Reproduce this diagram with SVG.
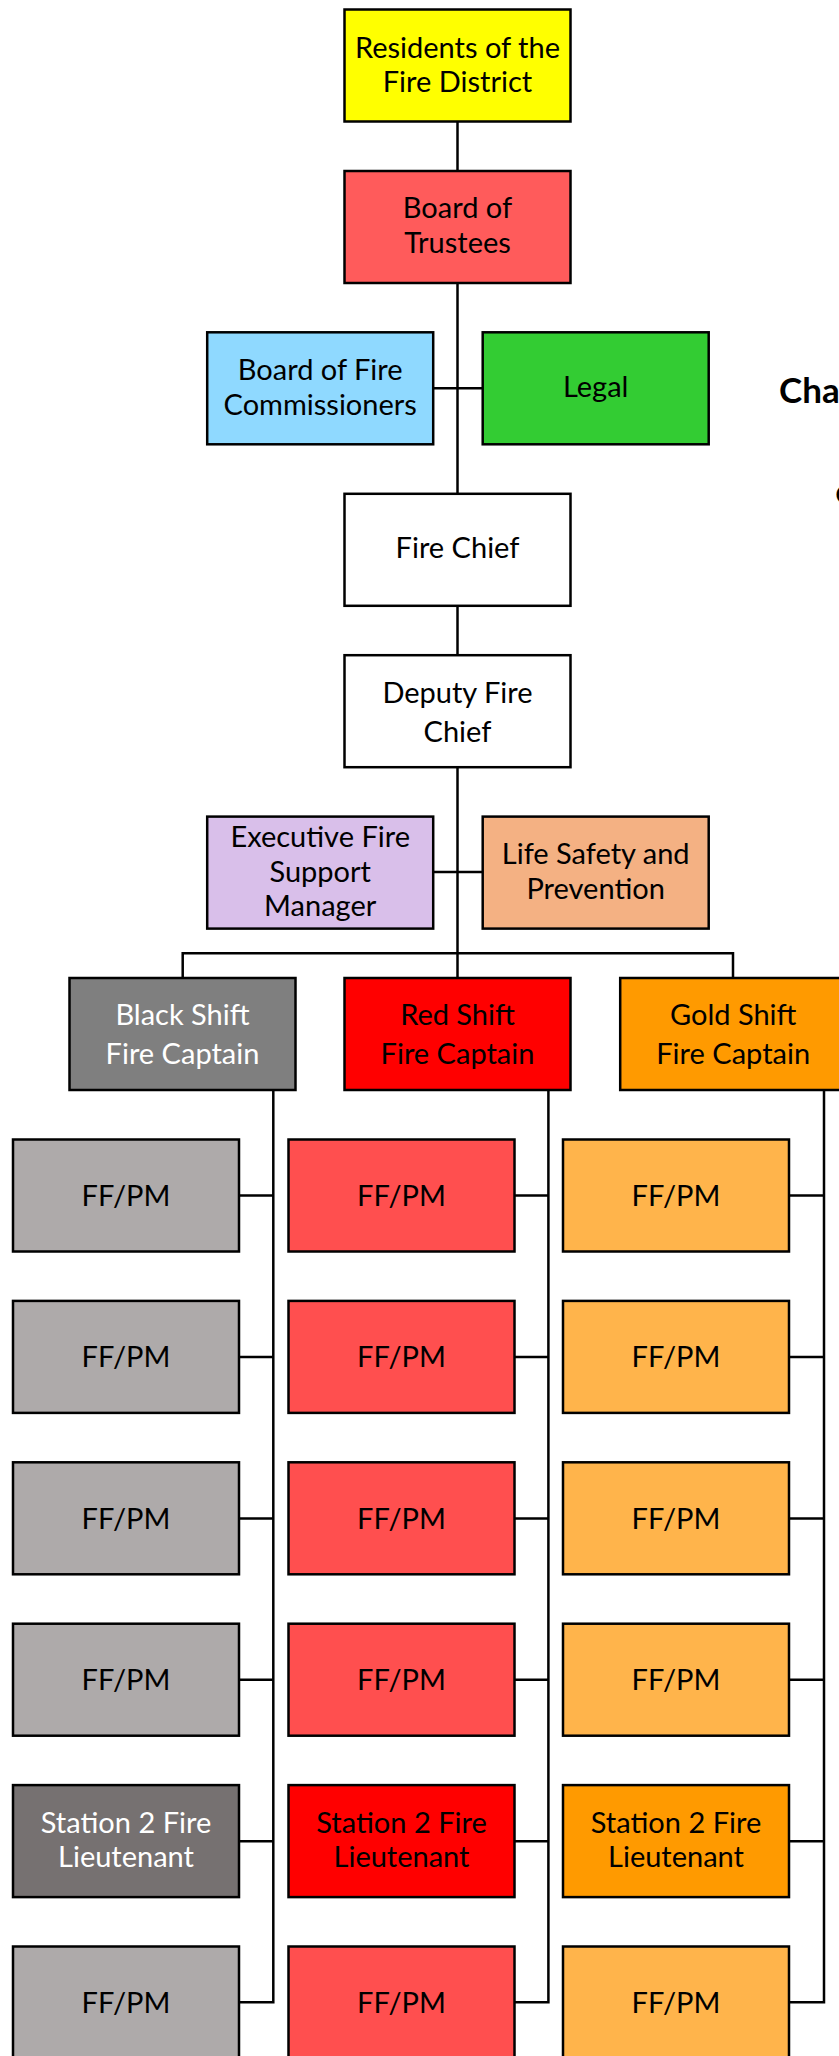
<svg xmlns="http://www.w3.org/2000/svg" width="839" height="2056" viewBox="0 0 839 2056">
<style>
.b{stroke:#000;stroke-width:2.5}
.t{font-family:Lato,"Liberation Sans",sans-serif;font-size:29px;text-anchor:middle;fill:#000}
.w{fill:#fff}
.c{fill:none;stroke:#000;stroke-width:2.5;stroke-linejoin:miter}
.h{font-family:Lato,"Liberation Sans",sans-serif;font-weight:bold;fill:#000}
.yel{fill:#FFFF00}.tru{fill:#FF5B5B}.blu{fill:#8FD9FF}.grn{fill:#33CC33}.wht{fill:#FFFFFF}
.lav{fill:#D9BFEA}.pch{fill:#F4B183}.gry{fill:#7F7F7F}.red{fill:#FF0000}.gld{fill:#FF9A00}
.gff{fill:#AEAAAA}.rff{fill:#FF4F4F}.oFF{fill:#FFB44B}.g2{fill:#767171}
</style>
<rect width="839" height="2056" fill="#fff"/>
<g id="connectors">
<line class="c" x1="457.5" y1="122" x2="457.5" y2="170"/>
<line class="c" x1="457.5" y1="283" x2="457.5" y2="493"/>
<line class="c" x1="433" y1="388.3" x2="482" y2="388.3"/>
<line class="c" x1="457.5" y1="606" x2="457.5" y2="655"/>
<line class="c" x1="457.5" y1="767" x2="457.5" y2="977"/>
<line class="c" x1="433" y1="872" x2="482" y2="872"/>
<path class="c" d="M182.7,977 V953.3 H733 V977"/>
<path class="c" d="M273.3,1090 V2002.3 H239"/>
<path class="c" d="M548.4,1090 V2002.3 H514.5"/>
<path class="c" d="M824,1090 V2002.3 H789.5"/>
<line class="c" x1="239" y1="1195.6" x2="273.3" y2="1195.6"/>
<line class="c" x1="239" y1="1357" x2="273.3" y2="1357"/>
<line class="c" x1="239" y1="1518.4" x2="273.3" y2="1518.4"/>
<line class="c" x1="239" y1="1679.8" x2="273.3" y2="1679.8"/>
<line class="c" x1="239" y1="1841.2" x2="273.3" y2="1841.2"/>
<line class="c" x1="514.5" y1="1195.6" x2="548.4" y2="1195.6"/>
<line class="c" x1="514.5" y1="1357" x2="548.4" y2="1357"/>
<line class="c" x1="514.5" y1="1518.4" x2="548.4" y2="1518.4"/>
<line class="c" x1="514.5" y1="1679.8" x2="548.4" y2="1679.8"/>
<line class="c" x1="514.5" y1="1841.2" x2="548.4" y2="1841.2"/>
<line class="c" x1="789.5" y1="1195.6" x2="824" y2="1195.6"/>
<line class="c" x1="789.5" y1="1357" x2="824" y2="1357"/>
<line class="c" x1="789.5" y1="1518.4" x2="824" y2="1518.4"/>
<line class="c" x1="789.5" y1="1679.8" x2="824" y2="1679.8"/>
<line class="c" x1="789.5" y1="1841.2" x2="824" y2="1841.2"/>
</g>
<g id="residents"><rect class="b yel" x="344.5" y="9.5" width="226" height="112"/><text class="t" x="457.5" y="57.5">Residents of the</text><text class="t" x="457.5" y="91.8">Fire District</text></g>
<g id="trustees"><rect class="b tru" x="344.5" y="171" width="226" height="112"/><text class="t" x="457.5" y="218">Board of</text><text class="t" x="457.5" y="252.5">Trustees</text></g>
<g id="commissioners"><rect class="b blu" x="207.2" y="332.3" width="226" height="112"/><text class="t" x="320.2" y="379.8">Board of Fire</text><text class="t" x="320.2" y="414.5">Commissioners</text></g>
<g id="legal"><rect class="b grn" x="482.7" y="332.3" width="226" height="112"/><text class="t" x="595.7" y="397">Legal</text></g>
<g id="fire-chief"><rect class="b wht" x="344.5" y="493.8" width="226" height="112"/><text class="t" x="457.5" y="558.3">Fire Chief</text></g>
<g id="deputy"><rect class="b wht" x="344.5" y="655.2" width="226" height="112"/><text class="t" x="457.5" y="702.9">Deputy Fire</text><text class="t" x="457.5" y="741.6">Chief</text></g>
<g id="executive"><rect class="b lav" x="207.2" y="816.6" width="226" height="112"/><text class="t" x="320.2" y="846.9">Executive Fire</text><text class="t" x="320.2" y="881.6">Support</text><text class="t" x="320.2" y="916.3">Manager</text></g>
<g id="life-safety"><rect class="b pch" x="482.7" y="816.6" width="226" height="112"/><text class="t" x="595.7" y="864">Life Safety and</text><text class="t" x="595.7" y="898.8">Prevention</text></g>
<g id="black-captain"><rect class="b gry" x="69.5" y="978" width="226" height="112"/><text class="t w" x="182.5" y="1025">Black Shift</text><text class="t w" x="182.5" y="1064">Fire Captain</text></g>
<g id="red-captain"><rect class="b red" x="344.5" y="978" width="226" height="112"/><text class="t" x="457.5" y="1025">Red Shift</text><text class="t" x="457.5" y="1064">Fire Captain</text></g>
<g id="gold-captain"><rect class="b gld" x="620.2" y="978" width="226" height="112"/><text class="t" x="733.2" y="1025">Gold Shift</text><text class="t" x="733.2" y="1064">Fire Captain</text></g>
<g id="black-ff1"><rect class="b gff" x="13" y="1139.5" width="226" height="112"/><text class="t" x="126" y="1206">FF/PM</text></g>
<g id="black-ff2"><rect class="b gff" x="13" y="1300.9" width="226" height="112"/><text class="t" x="126" y="1367.4">FF/PM</text></g>
<g id="black-ff3"><rect class="b gff" x="13" y="1462.3" width="226" height="112"/><text class="t" x="126" y="1528.8">FF/PM</text></g>
<g id="black-ff4"><rect class="b gff" x="13" y="1623.7" width="226" height="112"/><text class="t" x="126" y="1690.2">FF/PM</text></g>
<g id="black-lt"><rect class="b g2" x="13" y="1785.1" width="226" height="112"/><text class="t w" x="126" y="1832.7">Station 2 Fire</text><text class="t w" x="126" y="1867.3">Lieutenant</text></g>
<g id="black-ff5"><rect class="b gff" x="13" y="1946.5" width="226" height="112"/><text class="t" x="126" y="2013">FF/PM</text></g>
<g id="red-ff1"><rect class="b rff" x="288.5" y="1139.5" width="226" height="112"/><text class="t" x="401.5" y="1206">FF/PM</text></g>
<g id="red-ff2"><rect class="b rff" x="288.5" y="1300.9" width="226" height="112"/><text class="t" x="401.5" y="1367.4">FF/PM</text></g>
<g id="red-ff3"><rect class="b rff" x="288.5" y="1462.3" width="226" height="112"/><text class="t" x="401.5" y="1528.8">FF/PM</text></g>
<g id="red-ff4"><rect class="b rff" x="288.5" y="1623.7" width="226" height="112"/><text class="t" x="401.5" y="1690.2">FF/PM</text></g>
<g id="red-lt"><rect class="b red" x="288.5" y="1785.1" width="226" height="112"/><text class="t" x="401.5" y="1832.7">Station 2 Fire</text><text class="t" x="401.5" y="1867.3">Lieutenant</text></g>
<g id="red-ff5"><rect class="b rff" x="288.5" y="1946.5" width="226" height="112"/><text class="t" x="401.5" y="2013">FF/PM</text></g>
<g id="gold-ff1"><rect class="b oFF" x="563" y="1139.5" width="226" height="112"/><text class="t" x="676" y="1206">FF/PM</text></g>
<g id="gold-ff2"><rect class="b oFF" x="563" y="1300.9" width="226" height="112"/><text class="t" x="676" y="1367.4">FF/PM</text></g>
<g id="gold-ff3"><rect class="b oFF" x="563" y="1462.3" width="226" height="112"/><text class="t" x="676" y="1528.8">FF/PM</text></g>
<g id="gold-ff4"><rect class="b oFF" x="563" y="1623.7" width="226" height="112"/><text class="t" x="676" y="1690.2">FF/PM</text></g>
<g id="gold-lt"><rect class="b gld" x="563" y="1785.1" width="226" height="112"/><text class="t" x="676" y="1832.7">Station 2 Fire</text><text class="t" x="676" y="1867.3">Lieutenant</text></g>
<g id="gold-ff5"><rect class="b oFF" x="563" y="1946.5" width="226" height="112"/><text class="t" x="676" y="2013">FF/PM</text></g>
<g id="title"><text class="h" x="779" y="403.3" font-size="35">Cha</text><text class="h" x="835.5" y="504" font-size="26">C</text></g>
</svg>
